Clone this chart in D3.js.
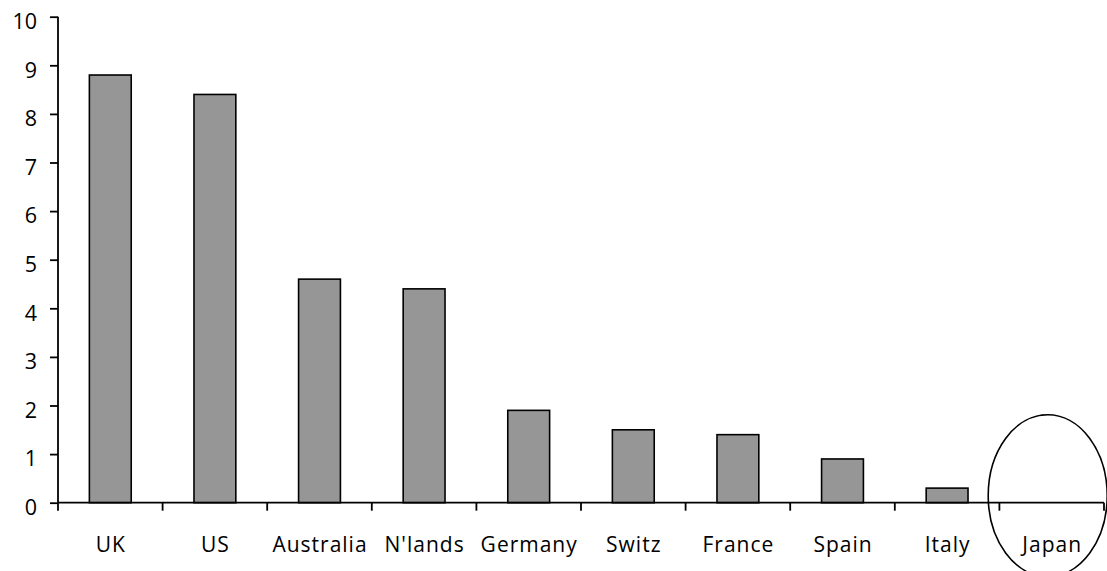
<!DOCTYPE html>
<html>
<head>
<meta charset="utf-8">
<script src="https://cdn.jsdelivr.net/npm/d3@7"></script>
<style>
  html, body { margin: 0; padding: 0; background: #fff; }
  svg { display: block; }
  text { font-family: "Open Sans", "Noto Sans", sans-serif; fill: #000; }
</style>
</head>
<body>
<svg id="chart" width="1107" height="571"></svg>
<script>
// Countries along the x axis and their values
const countries = ["UK", "US", "Australia", "N'lands", "Germany", "Switz", "France", "Spain", "Italy", "Japan"];
const values = [8.8, 8.4, 4.6, 4.4, 1.9, 1.5, 1.4, 0.9, 0.3, 0];
const yTicks = [0, 1, 2, 3, 4, 5, 6, 7, 8, 9, 10];
// The country singled out with an ellipse
const highlighted = "Japan";

const data = countries.map((c, i) => ({ country: c, value: values[i] }));

const svg = d3.select("#chart");
const margin = { left: 58, right: 3, top: 16.7, bottom: 68.3 };
const W = 1107, H = 571;

const x = d3.scaleBand()
  .domain(countries)
  .range([margin.left, W - margin.right])
  .paddingInner(0.6)
  .paddingOuter(0.3);

const y = d3.scaleLinear()
  .domain([0, 10])
  .range([H - margin.bottom, margin.top]);

// Bars
svg.append("g")
  .selectAll("rect")
  .data(data.filter(d => d.value > 0))
  .join("rect")
  .attr("x", d => x(d.country))
  .attr("width", x.bandwidth())
  .attr("y", d => y(d.value))
  .attr("height", d => y(0) - y(d.value))
  .attr("fill", "#969696")
  .attr("stroke", "#000")
  .attr("stroke-width", 1.6);

// Y axis
const yAxis = svg.append("g")
  .attr("transform", `translate(${margin.left},0)`)
  .call(d3.axisLeft(y).tickValues(yTicks).tickSize(8).tickPadding(13).tickFormat(d3.format("d")));
yAxis.select(".domain").attr("stroke-width", 1.8).attr("d", `M-0,${y(10)}V${y(0)}`);
yAxis.selectAll(".tick line").attr("stroke-width", 1.8);
yAxis.selectAll(".tick text")
  .attr("font-size", 21.5)
  .attr("dy", "0.55em")
  .attr("font-family", "'Open Sans', sans-serif");

// X axis: ticks at band boundaries, labels centred in each band
const xAxis = svg.append("g").attr("transform", `translate(0,${y(0)})`);
xAxis.append("line")
  .attr("x1", margin.left).attr("x2", W - margin.right)
  .attr("y1", 0).attr("y2", 0)
  .attr("stroke", "#000").attr("stroke-width", 1.8);
const step = x.step();
const boundaries = d3.range(countries.length + 1).map(i => margin.left + i * step);
xAxis.selectAll("line.tick")
  .data(boundaries)
  .join("line")
  .attr("class", "tick")
  .attr("x1", d => d).attr("x2", d => d)
  .attr("y1", 0).attr("y2", 8)
  .attr("stroke", "#000").attr("stroke-width", 1.8);
xAxis.selectAll("text")
  .data(countries)
  .join("text")
  .attr("x", d => x(d) + x.bandwidth() / 2 + 0.5)
  .attr("y", 49)
  .attr("text-anchor", "middle")
  .attr("font-size", 21)
  .attr("letter-spacing", "1px")
  .text(d => d);

// Ellipse around the highlighted country, set slightly left of the band centre
const cx = x(highlighted) + x.bandwidth() / 2 - 4;
svg.append("ellipse")
  .attr("cx", cx)
  .attr("cy", y(0) - 7)
  .attr("rx", 59.5)
  .attr("ry", 81)
  .attr("fill", "none")
  .attr("stroke", "#000")
  .attr("stroke-width", 1.6);
</script>
</body>
</html>
